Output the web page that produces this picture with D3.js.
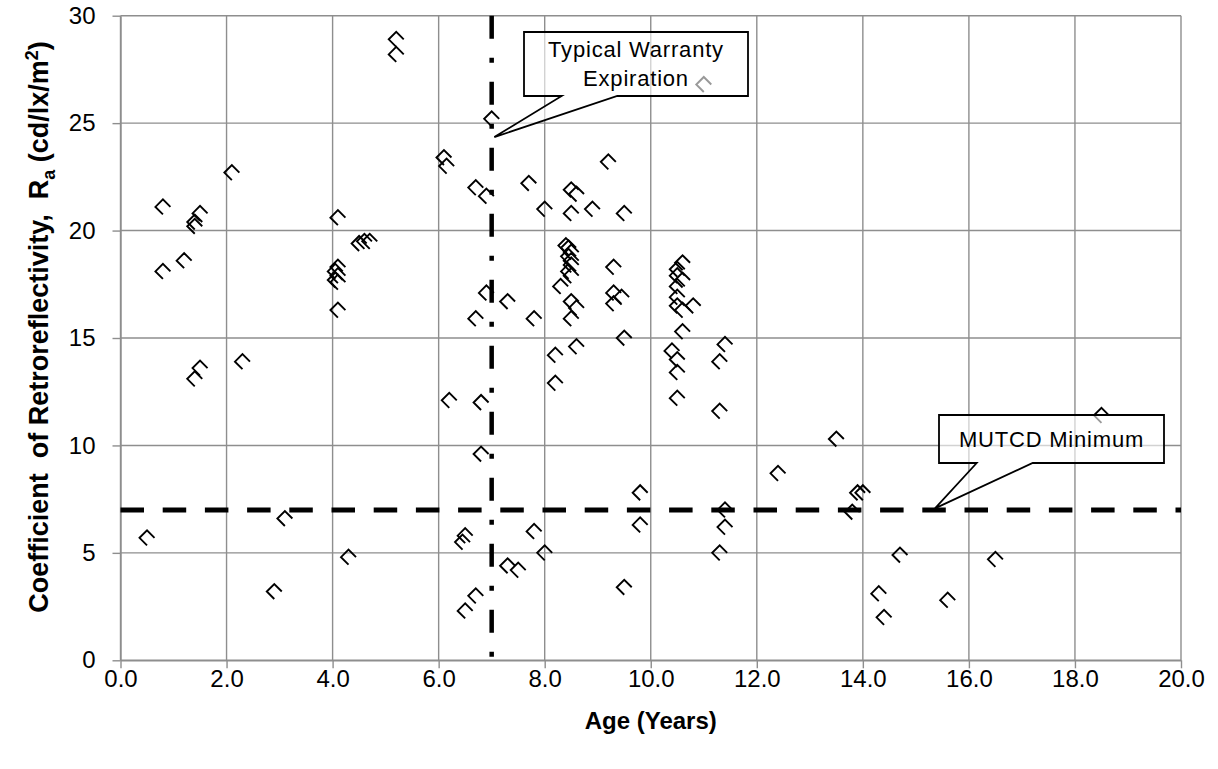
<!DOCTYPE html>
<html>
<head>
<meta charset="utf-8">
<script src="https://cdn.jsdelivr.net/npm/d3@7"></script>
<style>
  body { margin: 0; background: #fff; }
  svg  { display: block; font-family: "Liberation Sans", Arial, sans-serif; }
</style>
</head>
<body>
<svg id="chart" width="1218" height="769"></svg>
<script>
"use strict";

// ==========  Data  ==========
var ageYears = [
  0.5, 0.8, 0.8, 1.2, 1.5, 1.4, 1.4, 1.5, 1.4, 2.1, 2.3, 2.9, 3.1,
  4.1, 4.1, 4.05, 4.1, 4.05, 4.1, 4.1, 4.3, 4.5, 4.6, 4.7, 5.2, 5.2,
  6.1, 6.15, 6.2, 6.5, 6.45, 6.5, 6.7, 6.9, 6.7, 6.7, 6.8, 6.8, 6.9, 7.0,
  7.3, 7.3, 7.5, 7.7, 7.8, 7.8, 8.0, 8.0, 8.2, 8.2, 8.3,
  8.4, 8.45, 8.5, 8.45, 8.5, 8.5, 8.45, 8.5, 8.5, 8.6, 8.5, 8.5, 8.6, 8.5, 8.6,
  8.9, 9.2, 9.3, 9.3, 9.3, 9.45, 9.5, 9.5, 9.5, 9.8, 9.8,
  10.4, 10.5, 10.5, 10.5, 10.6, 10.5, 10.5, 10.6, 10.5, 10.5, 10.5, 10.6, 10.8, 10.6,
  11.0, 11.3, 11.4, 11.3, 11.4, 11.4, 11.3, 12.4, 13.5, 13.8, 13.9, 14.0,
  14.3, 14.4, 14.7, 15.6, 16.5, 18.5
]
var retroValues = [
  5.7, 21.1, 18.1, 18.6, 20.8, 20.4, 20.2, 13.6, 13.1, 22.7, 13.9, 3.2, 6.6,
  20.6, 18.3, 18.1, 17.9, 17.7, 17.6, 16.3, 4.8, 19.4, 19.5, 19.5, 28.9, 28.2,
  23.4, 23.0, 12.1, 5.8, 5.5, 2.3, 22.0, 21.6, 15.9, 3.0, 12.0, 9.6, 17.1, 25.2,
  16.7, 4.4, 4.2, 22.2, 15.9, 6.0, 21.0, 5.0, 14.2, 12.9, 17.4,
  19.3, 19.2, 19.0, 18.8, 18.6, 18.4, 18.1, 17.9, 21.9, 21.7, 20.8, 16.7, 16.4, 15.9, 14.6,
  21.0, 23.2, 18.3, 17.1, 16.6, 16.9, 20.8, 15.0, 3.4, 7.8, 6.3,
  14.4, 14.0, 13.4, 12.2, 18.5, 18.2, 17.9, 17.7, 17.4, 16.9, 16.5, 16.3, 16.5, 15.3,
  26.8, 13.9, 14.7, 11.6, 7.0, 6.2, 5.0, 8.7, 10.3, 6.9, 7.8, 7.8,
  3.1, 2.0, 4.9, 2.8, 4.7, 11.4
]
var xTicks = [0, 2, 4, 6, 8, 10, 12, 14, 16, 18, 20]
var yTicks = [0, 5, 10, 15, 20, 25, 30]
var warrantyAge  = 7      // dash-dot vertical line
var mutcdMinimum = 7      // dashed horizontal line

// ==========  Layout  ==========
var svg       = d3.select('#chart')
var plotLeft  = 120.5, plotRight  = 1181
var plotTop   = 15.7,  plotBottom = 660.3
var gridColor = '#8e8e8e'

var x = d3.scaleLinear().domain([0, 20]).range([plotLeft, plotRight])
var y = d3.scaleLinear().domain([0, 30]).range([plotBottom, plotTop])

// ==========  Grid  ==========
var grid = svg.append('g')
grid.selectAll('line.v').data(xTicks).enter().append('line')
    .attr('x1', function(d) { return x(d) }).attr('x2', function(d) { return x(d) })
    .attr('y1', plotTop).attr('y2', plotBottom)
    .attr('stroke', gridColor).attr('stroke-width', 1.4)
grid.selectAll('line.h').data(yTicks).enter().append('line')
    .attr('x1', plotLeft).attr('x2', plotRight)
    .attr('y1', function(d) { return y(d) }).attr('y2', function(d) { return y(d) })
    .attr('stroke', gridColor).attr('stroke-width', 1.4)

// ==========  Axes  ==========
var xAxis = svg.append('g').attr('transform', 'translate(0,' + plotBottom + ')')
    .call(d3.axisBottom(x).tickValues(xTicks).tickFormat(d3.format('.1f'))
            .tickSize(8).tickSizeOuter(0).tickPadding(2))
var yAxis = svg.append('g').attr('transform', 'translate(' + plotLeft + ',0)')
    .call(d3.axisLeft(y).tickValues(yTicks).tickSize(8).tickSizeOuter(0).tickPadding(17))
;[xAxis, yAxis].forEach(function(ax) {
  ax.select('.domain').attr('stroke', gridColor).attr('stroke-width', 1.4)
  ax.selectAll('.tick line').attr('stroke', gridColor).attr('stroke-width', 1.4)
  ax.selectAll('.tick text').attr('fill', '#000')
    .style('font-family', '"Liberation Sans", Arial, sans-serif').style('font-size', '24px')
})

svg.append('text')
   .attr('x', (plotLeft + plotRight) / 2).attr('y', 729)
   .attr('text-anchor', 'middle')
   .style('font-size', '24px').style('font-weight', 'bold')
   .text('Age (Years)')

var yTitle = svg.append('text')
   .attr('transform', 'translate(48,' + 327 + ') rotate(-90)')
   .attr('text-anchor', 'middle')
   .style('font-size', '27px').style('font-weight', 'bold')
yTitle.append('tspan').text('Coefficient  of Retroreflectivity,  R').attr('xml:space', 'preserve')
yTitle.append('tspan').text('a').attr('dy', 7).style('font-size', '18px')
yTitle.append('tspan').text(' (cd/lx/m').attr('dy', -7)
yTitle.append('tspan').text('2').attr('dy', -10).style('font-size', '18px')
yTitle.append('tspan').text(')').attr('dy', 10)

// ==========  Markers  ==========
// open diamond with the lower-right side missing
var h = 7.5
var markerPath = 'M' + h + ',0 L0,' + (-h) + ' L' + (-h) + ',0 L0,' + h
svg.append('g').selectAll('path').data(ageYears).enter().append('path')
   .attr('d', markerPath)
   .attr('transform', function(d, i) { return 'translate(' + x(d) + ',' + y(retroValues[i]) + ')' })
   .attr('fill', 'none').attr('stroke', '#000').attr('stroke-width', 1.9)

// ==========  Reference lines  ==========
svg.append('line')
   .attr('x1', x(warrantyAge)).attr('x2', x(warrantyAge))
   .attr('y1', y(30)).attr('y2', y(0))
   .attr('stroke', '#000').attr('stroke-width', 4.5)
   .attr('stroke-dasharray', '23,19,5,19')
svg.append('line')
   .attr('x1', x(0)).attr('x2', x(20))
   .attr('y1', y(mutcdMinimum)).attr('y2', y(mutcdMinimum))
   .attr('stroke', '#000').attr('stroke-width', 5)
   .attr('stroke-dasharray', '23.5,18.7')

// ==========  Callouts  ==========
var addCallout = function(box, wedge, tip, lines, baselines) {
  var tx = x(tip[0]), ty = y(tip[1])
  var d = 'M' + box.x0 + ',' + box.y0 + ' H' + box.x1 + ' V' + box.y1 +
          ' H' + wedge[1] + ' L' + tx + ',' + ty + ' L' + wedge[0] + ',' + box.y1 +
          ' H' + box.x0 + ' Z'
  svg.append('path').attr('d', d)
     .attr('fill', '#fff').attr('fill-opacity', 0.6)
     .attr('stroke', '#000').attr('stroke-width', 1.8)
  lines.forEach(function(t, i) {
    svg.append('text')
       .attr('x', (box.x0 + box.x1) / 2).attr('y', baselines[i])
       .attr('text-anchor', 'middle')
       .style('font-size', '22px').style('letter-spacing', '0.8px')
       .text(t)
  })
}
addCallout({x0: 524, y0: 32, x1: 748, y1: 96}, [561.7, 617.3], [7.05, 24.35],
           ['Typical Warranty', 'Expiration'], [57, 86])
addCallout({x0: 939, y0: 415, x1: 1164, y1: 463}, [976.7, 1032.7], [15.36, 7.07],
           ['MUTCD Minimum'], [447])
</script>
</body>
</html>
